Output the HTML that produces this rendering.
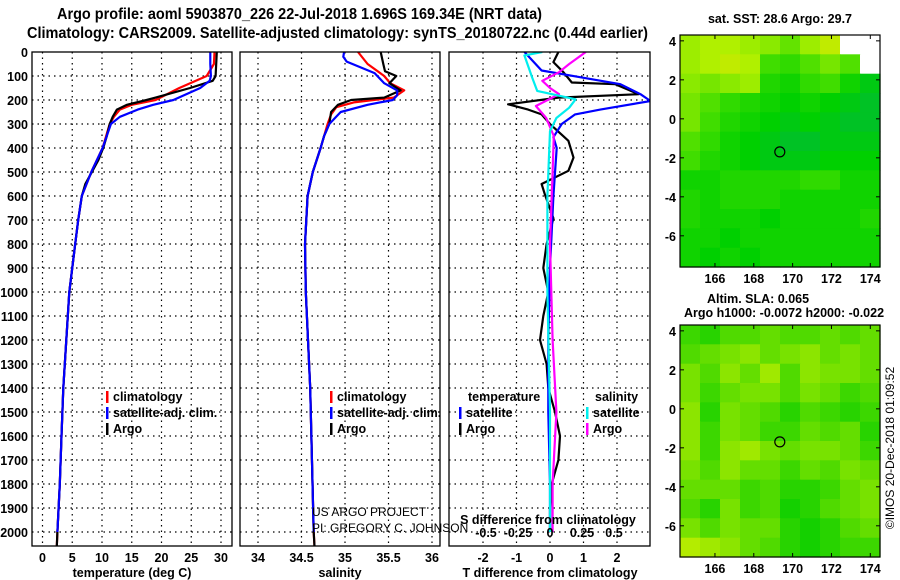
<!DOCTYPE html>
<html><head><meta charset="utf-8"><style>
body{margin:0;background:#fff}
svg{display:block;font-family:"Liberation Sans",sans-serif}
.b{font-weight:bold;font-size:12.5px}
</style></head><body>
<svg id="c" width="900" height="580" viewBox="0 0 900 580">
<text class="b" x="57" y="19" font-size="15.5" textLength="485" lengthAdjust="spacingAndGlyphs" style="font-size:15.5px">Argo profile: aoml 5903870_226 22-Jul-2018 1.696S 169.34E (NRT data)</text>
<text class="b" x="27" y="38" font-size="15.5" textLength="621" lengthAdjust="spacingAndGlyphs" style="font-size:15.5px">Climatology: CARS2009. Satellite-adjusted climatology: synTS_20180722.nc (0.44d earlier)</text>
</svg>
<script>
// ---- data ----
const depthTicks=[0,100,200,300,400,500,600,700,800,900,1000,1100,1200,1300,1400,1500,1600,1700,1800,1900,2000];
const tempTicks=[0,5,10,15,20,25,30];
const salTicks=[34,34.5,35,35.5,36];
const salTickLabels=["34","34.5","35","35.5","36"];
const tdTicks=[-2,-1,0,1,2];
const sdTicks=[-0.5,-0.25,0,0.25,0.5];
const tArgoD=[0,50,100,120,150,190,200,220,240,270,300,350,400,450,500,550,600,700,800,1000,1200,1400,1600,1800,2000,2060];
const tArgoV=[29.3,29.2,29.1,28.6,24.8,19,17.5,14.2,12.5,11.8,11.3,10.8,10.2,9.4,8.3,7.2,6.6,6.0,5.5,4.5,4.0,3.5,3.2,2.9,2.5,2.4];
const tClimD=[0,50,100,150,200,220,240,270,300,400,500,600,700,800,1000,1200,1400,1600,1800,2000,2060];
const tClimV=[28.9,28.8,27.6,23,19,15,13,12,11.3,10.1,8.2,6.6,6.0,5.5,4.5,4.0,3.5,3.2,2.9,2.5,2.4];
const tSatD=[0,50,100,120,150,200,220,240,270,300,400,500,600,700,800,1000,1200,1400,1600,1800,2000];
const tSatV=[28.2,28.2,28.3,28.1,26.5,22,18.6,16,13,11.5,10.1,8.2,6.6,6.0,5.5,4.5,4.0,3.5,3.2,2.9,2.5];
const sArgoD=[0,50,80,100,130,160,190,200,220,250,300,350,400,500,550,600,800,1000,1400,2000,2060];
const sArgoV=[35.41,35.44,35.46,35.59,35.51,35.64,35.45,35.07,34.92,34.84,34.82,34.76,34.72,34.63,34.6,34.57,34.54,34.55,34.6,34.64,34.65];
const sClimD=[0,50,100,130,160,190,210,230,260,300,400,500,600,800,1000,1400,2000,2060];
const sClimV=[35.15,35.26,35.45,35.52,35.68,35.56,35.1,34.9,34.84,34.8,34.72,34.63,34.57,34.54,34.55,34.6,34.64,34.65];
const sSatD=[0,20,40,88,130,160,180,200,220,250,300,350,400,500,600,800,1000,1400,2000];
const sSatV=[34.99,34.98,35.02,35.34,35.45,35.6,35.6,35.55,35.26,34.95,34.82,34.76,34.72,34.63,34.57,34.54,34.55,34.6,34.64];
const dTSatD=[0,77,106,134,176,204,240,260,300,355,400,600,900,1200,1500,1800,2000];
const dTSatV=[-0.76,-0.25,0.94,2.1,2.7,3.0,1.5,0.75,0.35,0.1,0.2,0.1,0.0,-0.05,-0.05,0.0,0.0];
const dTArgoD=[0,42,84,127,134,176,190,218,240,260,300,370,440,495,550,595,693,800,900,1000,1100,1200,1300,1400,1500,1600,1700,1800,1900,2000];
const dTArgoV=[0.25,0.1,0.4,0.65,1.95,2.65,0.25,-1.25,-0.65,-0.25,0.0,0.55,0.7,0.55,-0.25,-0.15,0.1,-0.1,-0.2,-0.05,-0.2,-0.3,-0.1,-0.05,0.15,0.3,0.25,0.05,0.0,0.0];
const dSSatD=[0,14,106,162,197,232,275,330,600,1000,1500,2000];
const dSSatV=[-0.06,-0.2,-0.14,-0.1,0.2,0.15,0.05,0.0,-0.02,-0.02,0.0,0.0];
const dSArgoD=[0,50,84,120,150,176,225,275,350,500,800,1200,1500,1800,2000];
const dSArgoV=[0.28,0.15,0.07,-0.06,0.0,0.07,-0.11,-0.03,0.03,0.02,0.0,0.02,0.05,0.02,0.02];
const lonTicks=[166,168,170,172,174];
const latTicks=[4,2,0,-2,-4,-6];
const sstGrid=[
[.8,.85,.85,.8,.75,.65,.8,.9,-1,-1],
[.8,.85,.9,.85,.55,.5,.6,.7,.6,-1],
[.75,.7,.75,.8,.45,.4,.5,.55,.4,.3],
[.7,.6,.5,.45,.4,.35,.4,.35,.3,.25],
[.7,.55,.45,.4,.35,.3,.35,.3,.25,.25],
[.6,.5,.4,.35,.3,.25,.25,.3,.3,.3],
[.55,.45,.4,.35,.3,.3,.3,.35,.35,.35],
[.4,.4,.45,.45,.45,.45,.5,.5,.4,.4],
[.45,.4,.45,.45,.45,.4,.4,.4,.4,.4],
[.45,.4,.4,.4,.35,.4,.4,.4,.4,.45],
[.4,.4,.35,.4,.4,.4,.4,.4,.4,.4],
[.4,.35,.4,.35,.4,.4,.4,.4,.4,.4]];
const slaGrid=[
[.3,.2,.4,.4,.5,.4,.4,.5,.4,.5],
[.4,.5,.6,.7,.5,.6,.7,.5,.6,.5],
[.6,.4,.7,.5,.8,.4,.7,.6,.6,.5],
[.6,.3,.5,.6,.6,.4,.6,.5,.3,.4],
[.7,.2,.6,.5,.4,.2,.4,.3,.2,.3],
[.7,.3,.6,.5,.3,.3,.5,.4,.5,.2],
[.7,.3,.7,.8,.6,.5,.6,.6,.5,.3],
[.6,.4,.7,.5,.5,.3,.5,.4,.6,.5],
[.5,.5,.5,.3,.4,.2,.2,.3,.5,.6],
[.4,.2,.6,.3,.4,.1,.2,.4,.5,.6],
[.6,.4,.6,.5,.5,.2,.1,.2,.4,.5],
[.9,.8,.7,.5,.4,.2,.1,.2,.3,.3]];
const floatLon=169.34, floatLat=-1.696;

// ---- helpers ----
const svg=document.getElementById('c');
const NS='http://www.w3.org/2000/svg';
function mk(tag,at,parent){const e=document.createElementNS(NS,tag);for(const k in at)e.setAttribute(k,at[k]);(parent||svg).appendChild(e);return e;}
const Y0=52,Y1=546;
const yD=d=>Y0+d*0.24;
const panels=[{x0:32,x1:232},{x0:240,x1:440},{x0:449,x1:650}];
const xT=v=>42.5+v*5.95;
const xS=v=>258+(v-34)*87;
const xTD=v=>550+v*33.5;
const xSD=v=>550+v*128;

depthTicks.forEach(d=>{const t=mk('text',{x:28,y:yD(d)+5,'text-anchor':'end',class:'b'});t.textContent=d;

});

function grid(p,xs,fn,name){
  const g=mk('g',{});
  
  
  xs.forEach(v=>mk('line',{x1:fn(v),x2:fn(v),y1:Y0,y2:Y1,stroke:'#000','stroke-dasharray':'1.5,4','stroke-width':1.2},g));
  depthTicks.forEach(d=>{if(d>0)mk('line',{x1:p.x0,x2:p.x1,y1:yD(d),y2:yD(d),stroke:'#000','stroke-dasharray':'1.5,4','stroke-width':1.2},g);});
}
function frame(p,name){const r=mk('rect',{x:p.x0,y:Y0,width:p.x1-p.x0,height:Y1-Y0,fill:'none',stroke:'#000','stroke-width':1.3});

}
function line(D,V,fx,col,name,clipId){
  const pts=D.map((d,i)=>fx(V[i]).toFixed(1)+','+yD(d).toFixed(1)).join(' ');
  const l=mk('polyline',{points:pts,fill:'none',stroke:col,'stroke-width':2.2,'stroke-linejoin':'round','clip-path':'url(#'+clipId+')'});
  
  
}
const defs=mk('defs',{});
panels.forEach((p,i)=>{const cp=mk('clipPath',{id:'cp'+i},defs);mk('rect',{x:p.x0,y:Y0,width:p.x1-p.x0,height:Y1-Y0},cp);});
function xlabels(vals,labs,fn,y,name){vals.forEach((v,i)=>{const t=mk('text',{x:fn(v),y:y,'text-anchor':'middle',class:'b'});t.textContent=labs[i];

});}
function txt(s,x,y,anchor,name,extra){const t=mk('text',Object.assign({x:x,y:y,'text-anchor':anchor||'start',class:'b'},extra||{}));t.textContent=s;

return t;}
function legBar(x,y,col,name){const r=mk('rect',{x:x,y:y-10,width:2.5,height:12,fill:col});

}

grid(panels[0],tempTicks,xT,'temperature');
line(tClimD,tClimV,xT,'#f00','temperature-climatology-line','cp0');
line(tArgoD,tArgoV,xT,'#000','temperature-argo-line','cp0');
line(tSatD,tSatV,xT,'#00f','temperature-satellite-line','cp0');
frame(panels[0],'temperature-panel');
xlabels(tempTicks,tempTicks.map(String),xT,562,'temperature');
txt('temperature (deg C)',132,577,'middle','temperature-axis-title');
legBar(106,401,'#f00','legend-climatology-marker');txt('climatology',113,401,'start','legend-climatology');
legBar(106,417,'#00f','legend-satellite-marker');txt('satellite-adj. clim.',113,417,'start','legend-satellite-adj');
legBar(106,433,'#000','legend-argo-marker');txt('Argo',113,433,'start','legend-argo');

grid(panels[1],salTicks,xS,'salinity');
line(sClimD,sClimV,xS,'#f00','salinity-climatology-line','cp1');
line(sArgoD,sArgoV,xS,'#000','salinity-argo-line','cp1');
line(sSatD,sSatV,xS,'#00f','salinity-satellite-line','cp1');
frame(panels[1],'salinity-panel');
xlabels(salTicks,salTickLabels,xS,562,'salinity');
txt('salinity',340,577,'middle','salinity-axis-title');
legBar(330,401,'#f00','legend2-climatology-marker');txt('climatology',337,401,'start','legend2-climatology');
legBar(330,417,'#00f','legend2-satellite-marker');txt('satellite-adj. clim.',337,417,'start','legend2-satellite-adj');
legBar(330,433,'#000','legend2-argo-marker');txt('Argo',337,433,'start','legend2-argo');
txt('US ARGO PROJECT',312,516,'start','project-credit',{class:'',"font-size":"12"});
txt('PI: GREGORY C. JOHNSON',312,532,'start','pi-credit',{class:'',"font-size":"12"});

grid(panels[2],tdTicks,xTD,'difference');
line(dTArgoD,dTArgoV,xTD,'#000','tdiff-argo-line','cp2');
line(dTSatD,dTSatV,xTD,'#00f','tdiff-satellite-line','cp2');
line(dSArgoD,dSArgoV,xSD,'#f0f','sdiff-argo-line','cp2');
line(dSSatD,dSSatV,xSD,'#0ee','sdiff-satellite-line','cp2');
frame(panels[2],'difference-panel');
xlabels(tdTicks,tdTicks.map(String),xTD,562,'tdiff');
txt('T difference from climatology',550,577,'middle','tdiff-axis-title');
xlabels(sdTicks,sdTicks.map(String),xSD,537,'sdiff');
txt('S difference from climatology',548,524,'middle','sdiff-axis-title');
txt('temperature',468,401,'start','legend3-temperature-header');
legBar(459,417,'#00f','legend3-t-satellite-marker');txt('satellite',466,417,'start','legend3-t-satellite');
legBar(459,433,'#000','legend3-t-argo-marker');txt('Argo',466,433,'start','legend3-t-argo');
txt('salinity',595,401,'start','legend3-salinity-header');
legBar(586,417,'#0ee','legend3-s-satellite-marker');txt('satellite',593,417,'start','legend3-s-satellite');
legBar(586,433,'#f0f','legend3-s-argo-marker');txt('Argo',593,433,'start','legend3-s-argo');

const MX0=680,MX1=880,LON0=164.2,LON1=174.5,LAT0=4.3,LAT1=-7.6;
const xLon=l=>MX0+(l-LON0)/(LON1-LON0)*(MX1-MX0);
function lerp(a,b,t){return a.map((v,i)=>Math.round(v+(b[i]-v)*t));}
function cmapSST(v){const st=[[0,[0,160,128]],[.35,[0,208,0]],[.6,[80,224,0]],[.85,[176,240,0]],[1,[224,224,0]]];
for(let i=1;i<st.length;i++)if(v<=st[i][0]){const c=lerp(st[i-1][1],st[i][1],(v-st[i-1][0])/(st[i][0]-st[i-1][0]));return 'rgb('+c+')';}return 'rgb(224,224,0)';}
function cmapSLA(v){const c=lerp([0,204,0],[200,240,0],v);return 'rgb('+c+')';}
function map(y0,y1,gridv,cm,name){
  const yLat=l=>y0+(LAT0-l)/(LAT0-LAT1)*(y1-y0);
  const g=mk('g',{});
  
  
  const nr=gridv.length,nc=gridv[0].length,cw=(MX1-MX0)/nc,ch=(y1-y0)/nr;
  gridv.forEach((row,r)=>row.forEach((v,c)=>{
    const cell=mk('rect',{x:(MX0+c*cw).toFixed(1),y:(y0+r*ch).toFixed(1),width:(cw+0.6).toFixed(1),height:(ch+0.6).toFixed(1),fill:v<0?'#fff':cm(v)},g);
    
    
  }));
  const fr=mk('rect',{x:MX0,y:y0,width:MX1-MX0,height:y1-y0,fill:'none',stroke:'#000','stroke-width':1.2});
  
  
  lonTicks.forEach(l=>{mk('line',{x1:xLon(l),x2:xLon(l),y1:y1,y2:y1-4,stroke:'#000'});mk('line',{x1:xLon(l),x2:xLon(l),y1:y0,y2:y0+4,stroke:'#000'});
    const t=mk('text',{x:xLon(l),y:y1+16,'text-anchor':'middle',class:'b'});t.textContent=l;
    
    });
  latTicks.forEach(l=>{mk('line',{x1:MX0,x2:MX0+4,y1:yLat(l),y2:yLat(l),stroke:'#000'});mk('line',{x1:MX1,x2:MX1-4,y1:yLat(l),y2:yLat(l),stroke:'#000'});
    const t=mk('text',{x:676,y:yLat(l)+5,'text-anchor':'end',class:'b'});t.textContent=l;
    
    });
  const c=mk('circle',{cx:xLon(floatLon),cy:yLat(floatLat),r:5,fill:'none',stroke:'#000','stroke-width':1.2});
  
  
}
map(35,267,sstGrid,cmapSST,'sst-map');
map(325,557,slaGrid,cmapSLA,'sla-map');
txt('sat. SST: 28.6 Argo: 29.7',780,23,'middle','sst-map-title');
txt('Altim. SLA: 0.065',758,303,'middle','sla-map-title');
txt('Argo h1000: -0.0072 h2000: -0.022',784,317,'middle','argo-height-title');
txt('©IMOS 20-Dec-2018 01:09:52',0,0,'middle','imos-credit',{class:'',"font-size":"12",transform:'translate(894,448) rotate(-90)'});
</script>
</body></html>
